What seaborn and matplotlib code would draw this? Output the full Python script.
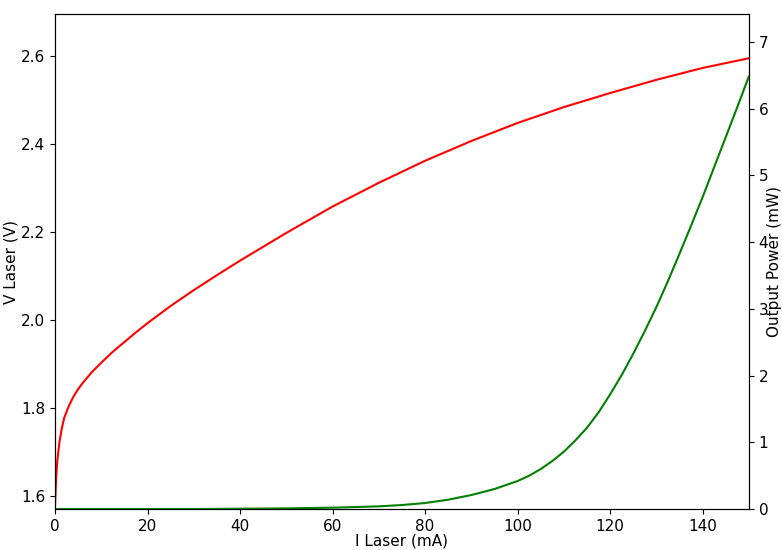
import numpy as np
import pandas as pd
import matplotlib
matplotlib.use("Agg")
import matplotlib.pyplot as plt
import seaborn as sns

# Laser current (mA) and voltage (V)
i_volt = [0, 0.25, 0.5, 1, 1.5, 2, 3, 4, 5, 6, 8, 10, 12.5, 15, 17.5, 20,
          25, 30, 35, 40, 50, 60, 70, 80, 90, 100, 110, 120, 130, 140, 150]
v_laser = [1.575, 1.64, 1.68, 1.725, 1.755, 1.778, 1.805, 1.826, 1.843,
           1.857, 1.882, 1.903, 1.928, 1.95, 1.972, 1.993, 2.032, 2.068,
           2.102, 2.135, 2.198, 2.258, 2.312, 2.362, 2.407, 2.448, 2.484,
           2.516, 2.546, 2.573, 2.595]

# Laser current (mA) and output power (mW)
i_power = [0, 10, 20, 30, 40, 50, 60, 65, 70, 75, 80, 85, 90, 95, 100, 102.5,
           105, 107.5, 110, 112.5, 115, 117.5, 120, 122.5, 125, 127.5, 130,
           132.5, 135, 137.5, 140, 142.5, 145, 147.5, 150]
p_out = [0.0, 0.0, 0.0, 0.0, 0.005, 0.01, 0.02, 0.03, 0.04, 0.06, 0.09, 0.14,
         0.21, 0.3, 0.42, 0.5, 0.6, 0.72, 0.86, 1.03, 1.22, 1.45, 1.72, 2.01,
         2.33, 2.67, 3.03, 3.42, 3.83, 4.25, 4.68, 5.13, 5.58, 6.03, 6.49]

sns.set_style("ticks")
plt.rcParams['font.family'] = ['DejaVu Sans']
plt.rcParams['axes.edgecolor'] = 'black'
plt.rcParams['xtick.color'] = 'black'
plt.rcParams['ytick.color'] = 'black'
plt.rcParams['axes.labelcolor'] = 'black'

df_v = pd.DataFrame({'I': i_volt, 'V': v_laser})
df_p = pd.DataFrame({'I': i_power, 'P': p_out})

fig = plt.figure(figsize=(7.82, 5.5), dpi=100)
ax = fig.add_axes([0.0703, 0.0745, 0.8875, 0.90])
sns.lineplot(data=df_v, x='I', y='V', ax=ax, color='red', linewidth=1.5,
             estimator=None)
ax.set_xlim(0, 150)
ax.set_ylim(1.5705, 2.6955)
ax.set_xlabel("I Laser (mA)", fontsize=11, labelpad=0)
ax.set_ylabel("V Laser (V)", fontsize=11, labelpad=2)
ax.tick_params(labelsize=11)

ax2 = ax.twinx()
sns.lineplot(data=df_p, x='I', y='P', ax=ax2, color='green', linewidth=1.5,
             estimator=None)
ax2.set_ylim(0, 7.42)
ax2.set_ylabel("Output Power (mW)", fontsize=11, labelpad=-1)
ax2.tick_params(labelsize=11)

for a in (ax, ax2):
    for s in a.spines.values():
        s.set_visible(True)
        s.set_linewidth(0.8)

fig.savefig("out.png", dpi=100)
